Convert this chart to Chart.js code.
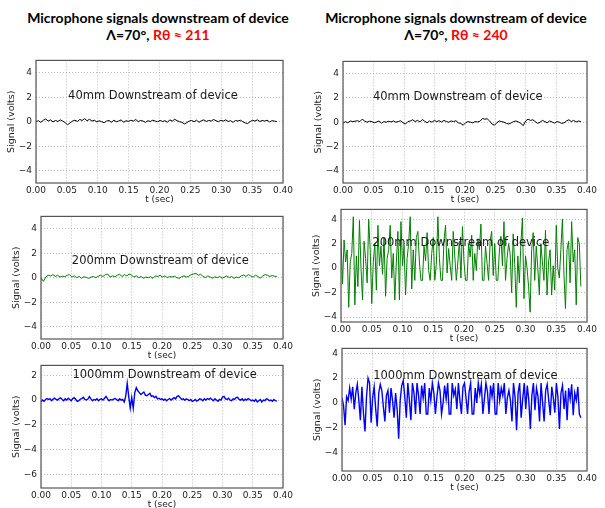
<!DOCTYPE html>
<html>
<head>
<meta charset="utf-8">
<script src="https://cdn.jsdelivr.net/npm/chart.js@4/dist/chart.umd.min.js"></script>
<style>
  html, body { margin: 0; padding: 0; background: #fff; }
  body { width: 605px; height: 508px; position: relative; overflow: hidden; }
  canvas { position: absolute; }
  .title {
    position: absolute; width: 300px; text-align: center;
    font-family: Lato, "Liberation Sans", sans-serif; font-weight: bold;
    font-size: 14px; line-height: 17px; color: #000;
  }
  .red { color: #ff0000; }
</style>
</head>
<body>
<div class="title" style="left:8px; top:9px">Microphone signals downstream of device<br>Λ=70°, <span class="red">Rθ ≈ 211</span></div>
<div class="title" style="left:306px; top:9px">Microphone signals downstream of device<br>Λ=70°, <span class="red">Rθ ≈ 240</span></div>
<script>
// time axis
const tEnd = 0.39;
const xTicks = [0, 0.05, 0.10, 0.15, 0.20, 0.25, 0.30, 0.35, 0.40];
const yTicksA = [-4, -2, 0, 2, 4];
const yTicksB = [-6, -4, -2, 0, 2];

const label40 = '40mm Downstream of device';
const label200 = '200mm Downstream of device';
const label1000 = '1000mm Downstream of device';

// Rθ ≈ 211 (left column)
const sig40L = [
  0.00, 0.08, -0.05, 0.12, 0.22, 0.05, 0.15, -0.02, 0.10, 0.02,
  0.15, 0.05, -0.08, -0.25, -0.10, 0.05, 0.12, 0.02, 0.18, 0.10,
  0.25, 0.08, 0.20, 0.05, 0.12, -0.02, 0.08, 0.00, -0.08, 0.05,
  0.10, -0.05, 0.12, 0.00, 0.05, 0.15, -0.05, 0.08, 0.02, 0.12,
  0.05, 0.18, 0.00, 0.10, 0.05, -0.05, 0.08, 0.02, 0.12, 0.05,
  0.00, 0.10, 0.02, 0.08, -0.05, 0.15, 0.05, 0.20, 0.08, 0.00,
  -0.05, -0.18, -0.08, 0.05, 0.10, 0.00, 0.12, -0.05, 0.08, 0.15,
  0.02, 0.10, 0.05, 0.18, 0.08, 0.00, 0.12, 0.05, 0.15, 0.02,
  0.08, -0.05, 0.10, 0.05, 0.12, 0.00, -0.10, -0.15, 0.00, 0.12,
  0.05, 0.15, 0.02, 0.10, 0.05, 0.12, -0.02, 0.08, 0.05, 0.00
];
const sig200L = [
  0.00, -0.30, 0.05, 0.20, 0.15, 0.25, 0.10, 0.20, 0.05, 0.12,
  0.08, 0.20, 0.25, 0.05, 0.15, 0.00, 0.10, -0.05, 0.08, 0.02,
  -0.05, 0.05, 0.10, 0.00, 0.12, 0.20, 0.10, 0.25, 0.30, 0.05,
  0.15, 0.08, 0.20, 0.28, 0.10, 0.25, 0.15, 0.30, 0.20, 0.05,
  0.15, 0.00, 0.10, -0.05, 0.05, 0.00, 0.08, -0.05, 0.15, 0.10,
  0.20, 0.05, 0.15, 0.00, 0.10, 0.05, 0.12, 0.00, -0.05, 0.08,
  0.15, 0.05, 0.12, 0.25, 0.30, 0.35, 0.20, 0.28, 0.10, 0.00,
  0.15, 0.05, -0.05, 0.08, 0.00, 0.10, -0.05, 0.05, 0.15, 0.00,
  0.10, -0.05, 0.05, 0.00, 0.15, 0.22, 0.10, 0.25, 0.15, 0.05,
  0.20, 0.10, -0.05, 0.15, 0.25, 0.20, 0.10, 0.18, 0.12, 0.10
];
const sig1000L = [
  -0.15, 0.00, -0.10, 0.05, 0.12, 0.05, 0.10, -0.05, 0.08, 0.15,
  0.05, 0.00, 0.12, 0.18, 0.05, -0.05, 0.10, 0.00, 0.15, 0.05,
  -0.05, 0.12, 0.20, 0.05, -0.10, -0.05, 0.08, 0.12, 0.22, 0.05,
  0.00, 0.08, 0.28, 0.10, -0.05, 0.05, 0.00, 0.10, -0.05, 0.05,
  0.10, 0.00, 0.15, 0.30, 0.10, -0.05, 0.05, 0.00, 0.08, 0.12,
  0.05, -0.05, 0.10, 0.00, 0.05, -0.15, 0.30, 1.35, 0.30, -0.65,
  0.20, -0.65, 0.60, 1.00, 0.75, 0.60, 0.45, 0.55, 0.65, 0.40,
  0.35, 0.45, 0.55, 0.30, 0.35, 0.20, 0.30, 0.10, 0.15, 0.05,
  0.10, 0.00, 0.08, -0.05, 0.05, 0.12, 0.00, 0.10, 0.20, 0.10,
  0.30, 0.35, 0.20, 0.05, 0.10, 0.00, 0.08, 0.05, -0.05, 0.05,
  -0.10, -0.05, 0.05, -0.08, 0.00, 0.10, 0.05, -0.05, 0.10, 0.00,
  0.12, 0.05, 0.15, 0.05, -0.05, 0.10, 0.00, -0.10, 0.05, 0.00,
  0.25, 0.30, 0.10, 0.05, 0.15, 0.00, -0.05, 0.10, 0.05, 0.20,
  0.22, 0.05, 0.00, 0.10, -0.05, 0.08, 0.00, 0.12, 0.05, -0.05,
  0.00, -0.10, 0.05, -0.15, -0.05, 0.05, -0.15, 0.00, -0.05, 0.10,
  0.05, -0.05, 0.00, -0.10, 0.05, -0.05, -0.08
];

// Rθ ≈ 240 (right column)
const sig40R = [
  -0.10, 0.05, -0.05, 0.10, 0.05, 0.08, 0.12, 0.05, 0.25, 0.10,
  0.00, 0.08, 0.05, -0.05, 0.02, 0.10, -0.08, 0.05, 0.00, 0.08,
  0.02, 0.10, 0.00, 0.05, 0.12, -0.05, -0.15, 0.05, 0.10, 0.20,
  0.05, 0.15, 0.02, 0.22, 0.08, -0.05, 0.10, 0.00, 0.15, 0.05,
  0.12, 0.02, 0.15, 0.05, 0.00, 0.10, 0.05, 0.12, -0.05, -0.10,
  -0.25, -0.05, 0.05, 0.00, -0.05, 0.05, 0.02, 0.08, 0.30, 0.25,
  0.28, 0.10, -0.15, -0.25, -0.05, 0.10, 0.05, 0.00, -0.10, -0.15,
  -0.05, 0.05, 0.10, 0.02, -0.10, -0.28, 0.10, 0.25, 0.15, 0.20,
  0.05, -0.10, 0.00, 0.15, 0.05, -0.05, 0.10, 0.02, -0.08, 0.05,
  0.00, -0.10, -0.05, 0.10, 0.20, 0.05, 0.15, 0.02, 0.10, 0.05
];
const sig200R = [
  2.4, -1.3, 2.3, 0.5, 1.5, -3.2, 0.5, 1.2, 4.2, -3.0,
  1.0, -1.5, 3.9, 0.0, -2.6, 2.2, 0.8, -1.2, 4.0, 1.5,
  -2.9, 0.5, 2.0, -1.8, 3.5, 0.2, 1.8, -0.5, 2.5, -2.3,
  0.8, 1.5, 3.5, -0.8, 1.2, -2.6, 0.5, 3.0, -2.6, 3.8,
  0.2, 1.8, -2.2, 0.8, 2.0, 4.2, -1.7, 1.5, -1.0, 2.5,
  3.0, 0.5, -1.0, -1.0, 1.8, 0.6, 2.9, -0.2, -1.0, 1.2,
  2.5, -1.0, 0.3, 4.2, 0.8, -1.0, -1.0, 2.3, 3.5, -0.4,
  1.6, 0.2, -1.0, 3.0, 1.0, -1.0, 0.5, 2.2, -0.8, 3.4,
  0.5, -1.0, -1.0, 2.0, 0.9, 2.7, -1.0, 1.2, -0.2, 2.4,
  1.5, 3.6, -1.0, -1.0, 1.8, 0.4, -1.0, 2.2, 3.0, -0.6,
  2.0, -1.0, -1.0, 1.4, 2.6, 0.2, 3.8, -1.0, 0.8, 2.0,
  1.2, -2.0, 2.8, 0.3, -3.2, 1.0, -1.2, 2.0, 4.1, -2.5,
  1.0, 0.0, -1.5, -3.6, 1.5, 2.9, -1.0, 1.8, 0.0, -2.2,
  2.0, 0.5, -1.0, 3.1, -2.2, 0.5, 1.5, -2.2, 0.2, -1.8,
  3.5, 0.0, -0.8, 1.5, 4.0, -0.5, -3.3, 1.5, 2.2, -1.2,
  3.8, 0.5, 1.5, -3.0, 2.5, 2.0, -1.5
];
const sig1000R = [
  0.4, -0.2, -1.8, 0.5, 0.2, 1.2, 0.3, 1.3, -0.5, 0.8,
  1.5, 0.2, -1.4, 1.3, -0.8, -2.3, 0.5, 2.0, 1.6, -1.6,
  0.4, 1.3, -0.5, -1.9, 0.8, 1.5, 1.0, -0.3, -1.5, 0.6,
  1.0, -0.8, 1.2, 0.2, -1.2, 0.8, -0.5, -2.9, 0.2, 1.4,
  1.8, 0.5, -1.2, 1.6, 0.2, -1.4, 1.6, 0.8, -0.9, 1.6,
  0.6, -0.9, 1.4, 0.4, 1.6, -0.9, -0.9, 1.2, 0.2, 1.6,
  0.8, -0.9, 0.5, 1.6, 1.0, -0.9, 0.0, 1.4, 0.3, 1.6,
  -0.9, -0.9, 1.6, 0.6, 1.1, -0.5, 1.6, 0.2, -0.9, 1.3,
  1.6, 0.4, -0.9, 0.9, 1.6, -0.9, -0.9, 1.2, 0.0, 1.6,
  0.7, 1.5, -0.9, 0.3, 1.6, 0.9, -0.9, 1.4, 0.5, 1.6,
  -0.9, -0.9, 1.6, 0.2, 1.2, 0.6, 1.6, -0.9, 0.4, 1.0,
  0.2, -1.5, 1.6, 0.5, -2.2, 0.8, 1.6, -1.2, 0.3, 1.6,
  -0.5, 1.4, 0.2, -2.1, 0.6, 1.6, -0.6, 1.2, 0.5, -1.5,
  1.6, 0.0, -1.5, 1.0, 1.5, 0.2, -1.0, 1.3, 0.4, -0.8,
  1.6, 0.5, -2.1, 0.8, 1.4, -0.5, 1.0, -1.4, 1.2, 0.3,
  1.5, -1.0, 0.8, 0.2, 1.3, -0.9, -1.2
];

// plot boxes in page pixels: [left, top, right, bottom]
const panels = [
  { box: [36, 59, 283, 183],  sig: sig40L,   color: '#000000', lw: 1,   yMin: -5,   yMax: 5,   yTicks: yTicksA, label: label40,   at: [0.052, 2.1] },
  { box: [343, 60, 587, 183], sig: sig40R,   color: '#000000', lw: 1,   yMin: -5,   yMax: 5,   yTicks: yTicksA, label: label40,   at: [0.049, 2.1] },
  { box: [41, 215, 283, 339], sig: sig200L,  color: '#008000', lw: 1,   yMin: -5,   yMax: 5,   yTicks: yTicksA, label: label200,  at: [0.051, 1.35] },
  { box: [341, 208, 587, 322], sig: sig200R, color: '#008000', lw: 1,   yMin: -4.4, yMax: 4.8, yTicks: yTicksA, label: label200,  at: [0.051, 2.08] },
  { box: [41, 364, 283, 488], sig: sig1000L, color: '#0000ff', lw: 1.4, yMin: -7.1, yMax: 2.8, yTicks: yTicksB, label: label1000, at: [0.052, 2.06] },
  { box: [342, 347, 587, 471], sig: sig1000R, color: '#0000ff', lw: 1.4, yMin: -5.5, yMax: 4.4, yTicks: yTicksA, label: label1000, at: [0.051, 2.16] }
];

const YW = 40, PT = 8, PR = 16, XH = 26;
const tickFont = { family: 'DejaVu Sans', size: 9 };
const fmtNum = v => (v < 0 ? '\u2212' + Math.abs(v) : String(v));

const framePlugin = {
  id: 'frame',
  afterDatasetsDraw(chart, args, opts) {
    const { ctx, chartArea: a, scales } = chart;
    ctx.save();
    ctx.font = '11.5px "DejaVu Sans"';
    ctx.fillStyle = '#1a1a1a';
    ctx.textBaseline = 'middle';
    ctx.textAlign = 'left';
    ctx.fillText(opts.text, scales.x.getPixelForValue(opts.x), scales.y.getPixelForValue(opts.y));
    ctx.strokeStyle = '#555';
    ctx.lineWidth = 1.2;
    ctx.strokeRect(a.left, a.top, a.right - a.left, a.bottom - a.top);
    ctx.restore();
  }
};

panels.forEach(p => {
  const [l, t, r, b] = p.box;
  const cv = document.createElement('canvas');
  cv.width = r - l + YW + PR;
  cv.height = b - t + PT + XH;
  cv.style.left = (l - YW) + 'px';
  cv.style.top = (t - PT) + 'px';
  document.body.appendChild(cv);

  const pts = p.sig.map((v, i) => ({ x: i * tEnd / (p.sig.length - 1), y: v }));

  new Chart(cv, {
    type: 'line',
    data: {
      datasets: [{
        data: pts,
        borderColor: p.color,
        borderWidth: p.lw,
        pointRadius: 0,
        tension: 0,
        fill: false
      }]
    },
    options: {
      responsive: false,
      animation: false,
      events: [],
      layout: { padding: { top: PT, right: PR, left: 0, bottom: 0 } },
      plugins: {
        legend: { display: false },
        tooltip: { enabled: false },
        frame: { text: p.label, x: p.at[0], y: p.at[1] }
      },
      scales: {
        x: {
          type: 'linear', min: 0, max: 0.4,
          afterBuildTicks: axis => { axis.ticks = xTicks.map(v => ({ value: v })); },
          afterFit: axis => { axis.height = XH; },
          ticks: { font: tickFont, color: '#222', padding: 2, maxRotation: 0, autoSkip: false,
                   callback: v => v.toFixed(2) },
          grid: { color: '#a8a8a8', lineWidth: 0.8, drawTicks: false },
          border: { display: false, dash: [1, 2] },
          title: { display: true, text: 't (sec)', font: tickFont, color: '#222', padding: { top: 0, bottom: 3.6 } }
        },
        y: {
          type: 'linear', min: p.yMin, max: p.yMax,
          afterBuildTicks: axis => { axis.ticks = p.yTicks.map(v => ({ value: v })); },
          afterFit: axis => { axis.width = YW; },
          ticks: { font: tickFont, color: '#222', padding: 4, callback: v => fmtNum(v) },
          grid: { color: '#a8a8a8', lineWidth: 0.8, drawTicks: false },
          border: { display: false, dash: [1, 2] },
          title: { display: true, text: 'Signal (volts)', font: { family: 'DejaVu Sans', size: 9.5 }, color: '#222', padding: { top: 10, bottom: 0 } }
        }
      }
    },
    plugins: [framePlugin]
  });
});
</script>
</body>
</html>
